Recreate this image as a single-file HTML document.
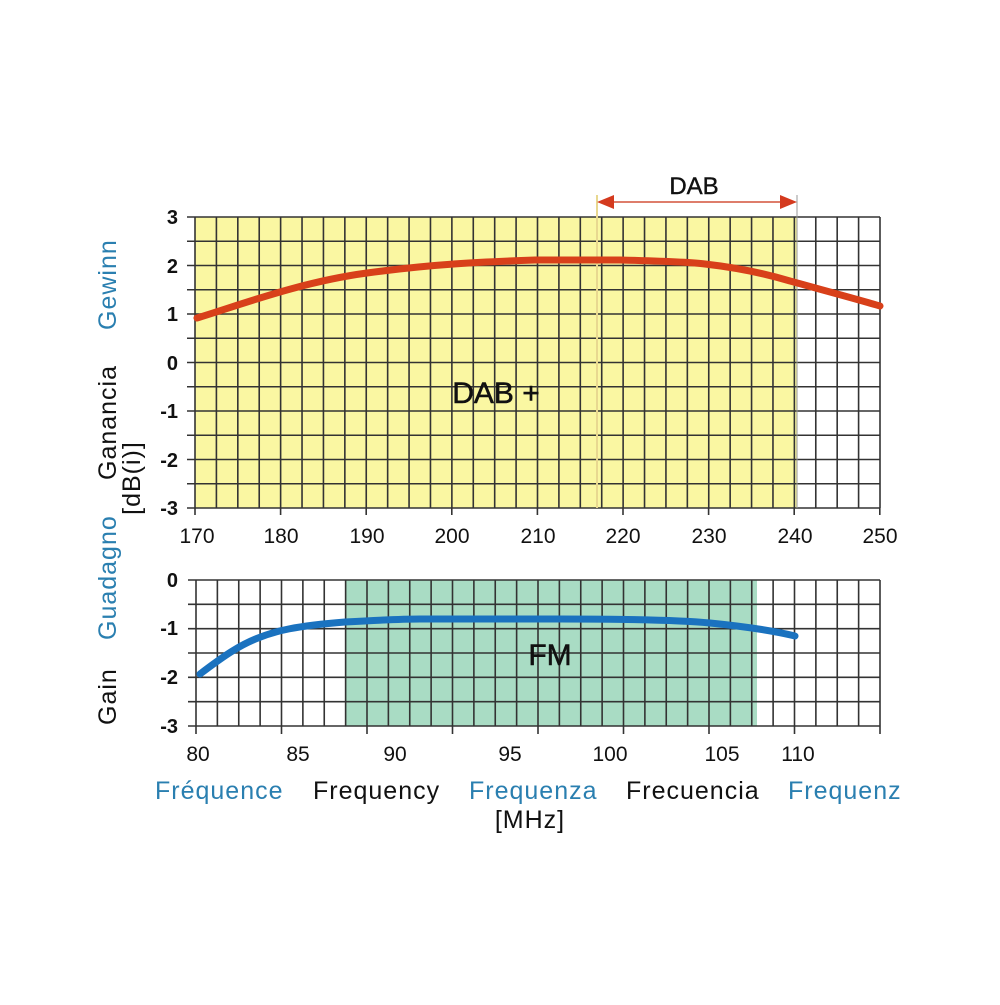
<!DOCTYPE html>
<html><head><style>
body{margin:0;background:#fff;}
svg text{font-family:"Liberation Sans",Arial,sans-serif;}
</style></head><body>
<svg width="1000" height="1000" viewBox="0 0 1000 1000" xmlns="http://www.w3.org/2000/svg">
<rect width="1000" height="1000" fill="#fff"/>
<rect x="195" y="217" width="602" height="291" fill="#faf7a2"/>
<g stroke="#333" stroke-width="1.6" id="tg"></g>
<script>
(function(){
 var ns="http://www.w3.org/2000/svg";
 function L(g,x1,y1,x2,y2){var l=document.createElementNS(ns,"line");l.setAttribute("x1",x1);l.setAttribute("y1",y1);l.setAttribute("x2",x2);l.setAttribute("y2",y2);g.appendChild(l);}
 var g=document.getElementById("tg");
 for(var i=0;i<=32;i++){var x=195+i*(685/32);L(g,x,217,x,508);}
 for(var j=0;j<=12;j++){var y=217+j*(291/12);L(g,187,y,880,y);}
 for(var i=0;i<=8;i++){var x=195+i*85.6;L(g,x,508,x,515);}
})();
</script>
<line x1="597" y1="195" x2="597" y2="508" stroke="#e8d890" stroke-width="2"/>
<line x1="797" y1="195" x2="797" y2="508" stroke="#999" stroke-width="1"/>
<line x1="600" y1="202" x2="794" y2="202" stroke="#d4523a" stroke-width="1.5"/>
<polygon points="597,202 614,195 614,209" fill="#d43a1e"/>
<polygon points="797,202 780,195 780,209" fill="#d43a1e"/>
<text x="694" y="194" font-size="24" text-anchor="middle" fill="#111" stroke="#111" stroke-width="0.4">DAB</text>
<text x="496" y="403" font-size="30" text-anchor="middle" fill="#111" stroke="#111" stroke-width="0.5">DAB +</text>
<path d="M197,318 C240,305 300,282 367,273 S480,262 535,260 L620,260 C660,261 690,262 705,264 C740,268 770,275 790,281 C830,292 860,300 880,306" fill="none" stroke="#d8401a" stroke-width="7" stroke-linecap="round"/>
<g font-size="20" font-weight="bold" text-anchor="end" fill="#111">
<text x="178" y="224">3</text><text x="178" y="273">2</text><text x="178" y="321">1</text><text x="178" y="370">0</text><text x="178" y="418">-1</text><text x="178" y="467">-2</text><text x="178" y="515">-3</text>
</g>
<g font-size="21" text-anchor="middle" fill="#111">
<text x="197" y="543">170</text><text x="281" y="543">180</text><text x="367" y="543">190</text><text x="452" y="543">200</text><text x="538" y="543">210</text><text x="623" y="543">220</text><text x="709" y="543">230</text><text x="795" y="543">240</text><text x="880" y="543">250</text>
</g>
<rect x="345" y="580" width="412" height="146" fill="#a9dcc4"/>
<g stroke="#333" stroke-width="1.6" id="bg"></g>
<script>
(function(){
 var ns="http://www.w3.org/2000/svg";
 function L(g,x1,y1,x2,y2){var l=document.createElementNS(ns,"line");l.setAttribute("x1",x1);l.setAttribute("y1",y1);l.setAttribute("x2",x2);l.setAttribute("y2",y2);g.appendChild(l);}
 var g=document.getElementById("bg");
 for(var i=0;i<=32;i++){var x=196+i*(684/32);L(g,x,580,x,726);}
 for(var j=0;j<=6;j++){var y=580+j*(146/6);L(g,188,y,880,y);}
 for(var i=0;i<=8;i++){var x=196+i*85.5;L(g,x,726,x,734);}
})();
</script>
<text x="550" y="665" font-size="30" text-anchor="middle" fill="#111" stroke="#111" stroke-width="0.5">FM</text>
<path d="M200,674 C225,655 240,645 258,638 C275,631 295,626 345,622 C380,620 400,619 420,619 L560,619 C620,619 680,620 710,623 C740,626 770,630 795,636" fill="none" stroke="#1a72bf" stroke-width="7" stroke-linecap="round"/>
<g font-size="20" font-weight="bold" text-anchor="end" fill="#111">
<text x="178" y="587">0</text><text x="178" y="635">-1</text><text x="178" y="684">-2</text><text x="178" y="733">-3</text>
</g>
<g font-size="21" text-anchor="middle" fill="#111">
<text x="198" y="761">80</text><text x="298" y="761">85</text><text x="395" y="761">90</text><text x="510" y="761">95</text><text x="610" y="761">100</text><text x="722" y="761">105</text><text x="798" y="761">110</text>
</g>
<g font-size="25" letter-spacing="1">
<text x="155" y="799" fill="#2a7fb0">Fréquence</text>
<text x="313" y="799" fill="#111">Frequency</text>
<text x="469" y="799" fill="#2a7fb0">Frequenza</text>
<text x="626" y="799" fill="#111">Frecuencia</text>
<text x="788" y="799" fill="#2a7fb0">Frequenz</text>
<text x="530" y="828" text-anchor="middle" fill="#111">[MHz]</text>
</g>
<g font-size="25" letter-spacing="1" transform="translate(116,725) rotate(-90)">
<text x="0" y="0" fill="#111">Gain</text>
<text x="85" y="0" fill="#2a7fb0">Guadagno</text>
<text x="245" y="0" fill="#111">Ganancia</text>
<text x="395" y="0" fill="#2a7fb0">Gewinn</text>
</g>
<text font-size="25" letter-spacing="1" fill="#111" transform="translate(140,478) rotate(-90)" text-anchor="middle">[dB(i)]</text>
</svg>
</body></html>
